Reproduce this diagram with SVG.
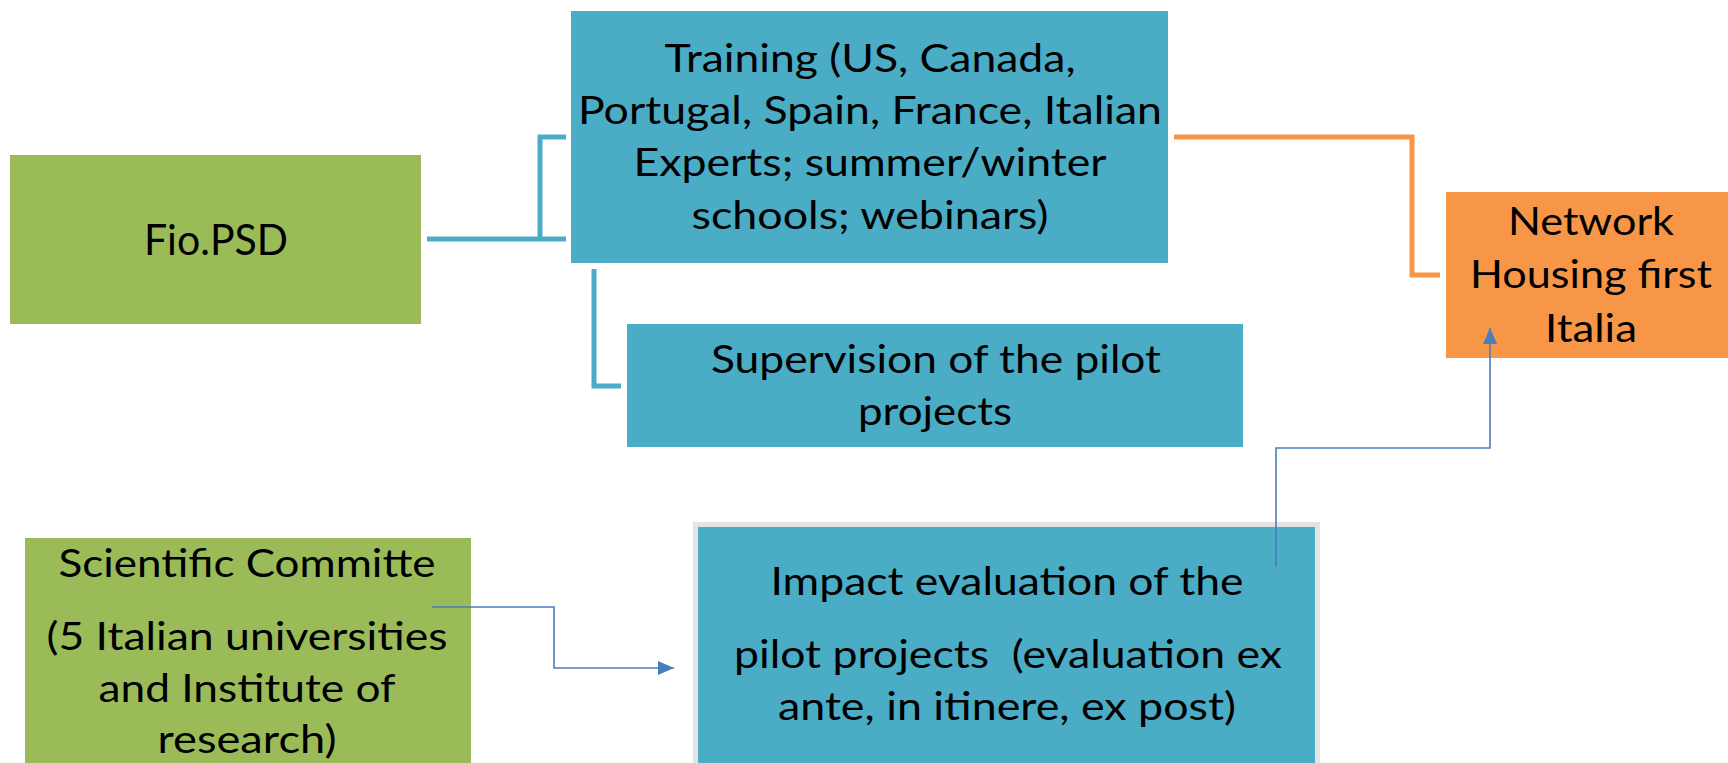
<svg xmlns="http://www.w3.org/2000/svg" width="1728" height="763" viewBox="0 0 1728 763">
<style>
.green{fill:#9BBB59;}
.teal{fill:#4BACC6;}
.orange{fill:#F79646;}
text{font-family:Lato,"Liberation Sans",sans-serif;font-size:39px;fill:#000;text-anchor:middle;}
.thick{fill:none;stroke-width:5;stroke-linejoin:miter;}
.thin{fill:none;stroke:#4A7EBB;stroke-width:1.6;}
</style>
<defs>
<marker id="arr" markerUnits="userSpaceOnUse" markerWidth="16" markerHeight="14" refX="16" refY="7" orient="auto">
<path d="M0,0 L16,7 L0,14 z" fill="#4A7EBB"/>
</marker>
</defs>
<rect width="1728" height="763" fill="#fff"/>
<g id="fio">
<rect class="green" x="10" y="155" width="411" height="169"/>
<text x="216" y="255" style="font-size:42px" textLength="144" lengthAdjust="spacingAndGlyphs">Fio.PSD</text>
</g>
<g id="training">
<rect class="teal" x="571" y="11" width="597" height="252"/>
<text x="870" y="72" textLength="411" lengthAdjust="spacingAndGlyphs">Training (US, Canada,</text>
<text x="870" y="124" textLength="584" lengthAdjust="spacingAndGlyphs">Portugal, Spain, France, Italian</text>
<text x="870" y="176" textLength="473" lengthAdjust="spacingAndGlyphs">Experts; summer/winter</text>
<text x="870" y="229" textLength="357" lengthAdjust="spacingAndGlyphs">schools; webinars)</text>
</g>
<g id="supervision">
<rect class="teal" x="627" y="324" width="616" height="123"/>
<text x="936" y="373" textLength="450" lengthAdjust="spacingAndGlyphs">Supervision of the pilot</text>
<text x="935" y="425" textLength="154" lengthAdjust="spacingAndGlyphs">projects</text>
</g>
<g id="network">
<rect class="orange" x="1446" y="192" width="282" height="166"/>
<text x="1591" y="235" textLength="166" lengthAdjust="spacingAndGlyphs">Network</text>
<text x="1591" y="288" textLength="242" lengthAdjust="spacingAndGlyphs">Housing first</text>
<text x="1591" y="342" textLength="92" lengthAdjust="spacingAndGlyphs">Italia</text>
</g>
<g id="scientific">
<rect class="green" x="25" y="538" width="446" height="240"/>
<text x="247" y="577" textLength="377" lengthAdjust="spacingAndGlyphs">Scientific Committe</text>
<text x="247" y="650" textLength="401" lengthAdjust="spacingAndGlyphs">(5 Italian universities</text>
<text x="247" y="702" textLength="297" lengthAdjust="spacingAndGlyphs">and Institute of</text>
<text x="247" y="753" textLength="179" lengthAdjust="spacingAndGlyphs">research)</text>
</g>
<g id="impact">
<rect class="teal" x="695.5" y="524.5" width="622" height="260" stroke="#E4E4E4" stroke-width="5"/>
<text x="1007" y="595" textLength="473" lengthAdjust="spacingAndGlyphs">Impact evaluation of the</text>
<text x="1008" y="668" textLength="548" lengthAdjust="spacingAndGlyphs" xml:space="preserve">pilot projects  (evaluation ex</text>
<text x="1007" y="720" textLength="458" lengthAdjust="spacingAndGlyphs">ante, in itinere, ex post)</text>
</g>
<g id="connectors">
<path class="thick" stroke="#4BACC6" d="M427 239 H566 M540 239 V137 H566"/>
<path class="thick" stroke="#4BACC6" d="M594 269 V386 H621"/>
<path class="thick" stroke="#F79646" d="M1174 137 H1412 V275 H1440"/>
<path class="thin" d="M432 607 H554 V668 H674" marker-end="url(#arr)"/>
<path class="thin" d="M1276 567 V448 H1490 V328" marker-end="url(#arr)"/>
</g>
</svg>
